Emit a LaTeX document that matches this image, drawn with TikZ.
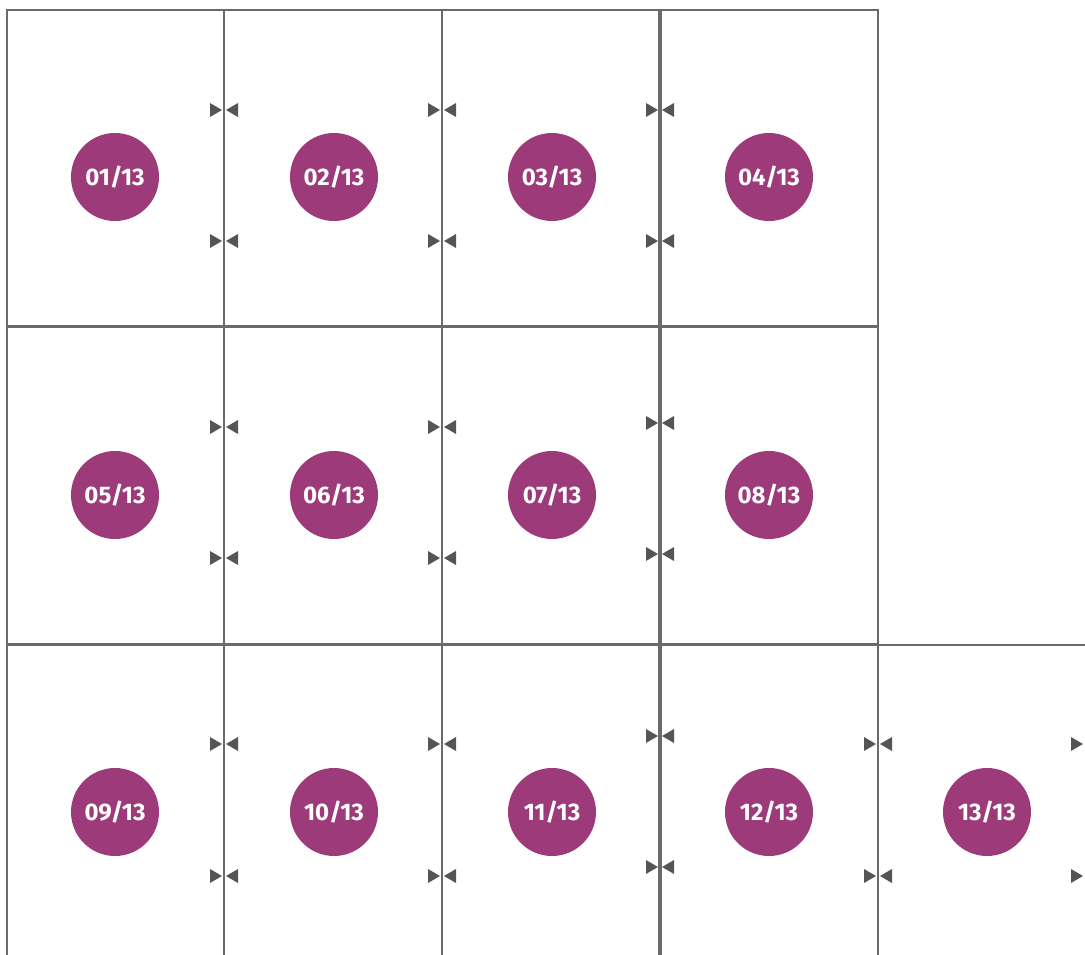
\documentclass[tikz,border=0pt]{standalone}
\usepackage{fontspec}
\setmainfont{Fira Sans}
\definecolor{plum}{HTML}{9C3A7A}
\definecolor{edge}{HTML}{6A6A6A}
\definecolor{tri}{HTML}{555555}
\begin{document}
\begin{tikzpicture}[x=1pt,y=-1pt,
  panel/.style={draw=edge,line width=1.5pt},
  badge/.style={circle,fill=plum,minimum size=88pt,inner sep=0pt,text=white,
    font=\fontsize{24}{24}\selectfont\bfseries},
  bowtri/.style={fill=tri,draw=none}]
\useasboundingbox (0,0) rectangle (1085,955);
\clip (0,0) rectangle (1085,955);
% panels row 1
\draw[panel] (7,10) rectangle (224,326);
\draw[panel] (224,10) rectangle (442,326);
\draw[panel] (442,10) rectangle (659,326);
\draw[panel] (661,10) rectangle (878,326);
% row 2
\draw[panel] (7,327) rectangle (224,644);
\draw[panel] (224,327) rectangle (442,644);
\draw[panel] (442,327) rectangle (659,644);
\draw[panel] (661,327) rectangle (878,644);
% row 3
\draw[panel] (7,645) rectangle (224,970);
\draw[panel] (224,645) rectangle (442,970);
\draw[panel] (442,645) rectangle (659,970);
\draw[panel] (661,645) rectangle (878,970);
\draw[panel] (878,645) rectangle (1100,970);
% bow ties
\foreach \x/\y in {224/110,224/241,442/110,442/241,660/110,660/241,
                   224/427,224/558,442/427,442/558,660/423,660/554,
                   224/744,224/876,442/744,442/876,660/736,660/867,
                   878/744,878/876,1085/744,1085/876}{
  \fill[bowtri] (\x-14,\y-7) -- (\x-2,\y) -- (\x-14,\y+7) -- cycle;
  \fill[bowtri] (\x+14,\y-7) -- (\x+2,\y) -- (\x+14,\y+7) -- cycle;
}
% badges
\node[badge] (c1) at (115,177) {01/13};
\node[badge] (c2) at (334,177) {02/13};
\node[badge] (c3) at (552,177) {03/13};
\node[badge] (c4) at (769,177) {04/13};
\node[badge] (c5) at (115,495) {05/13};
\node[badge] (c6) at (334,495) {06/13};
\node[badge] (c7) at (552,495) {07/13};
\node[badge] (c8) at (769,495) {08/13};
\node[badge] (c9) at (115,812) {09/13};
\node[badge] (c10) at (334,812) {10/13};
\node[badge] (c11) at (552,812) {11/13};
\node[badge] (c12) at (769,812) {12/13};
\node[badge] (c13) at (987,812) {13/13};
\end{tikzpicture}
\end{document}
